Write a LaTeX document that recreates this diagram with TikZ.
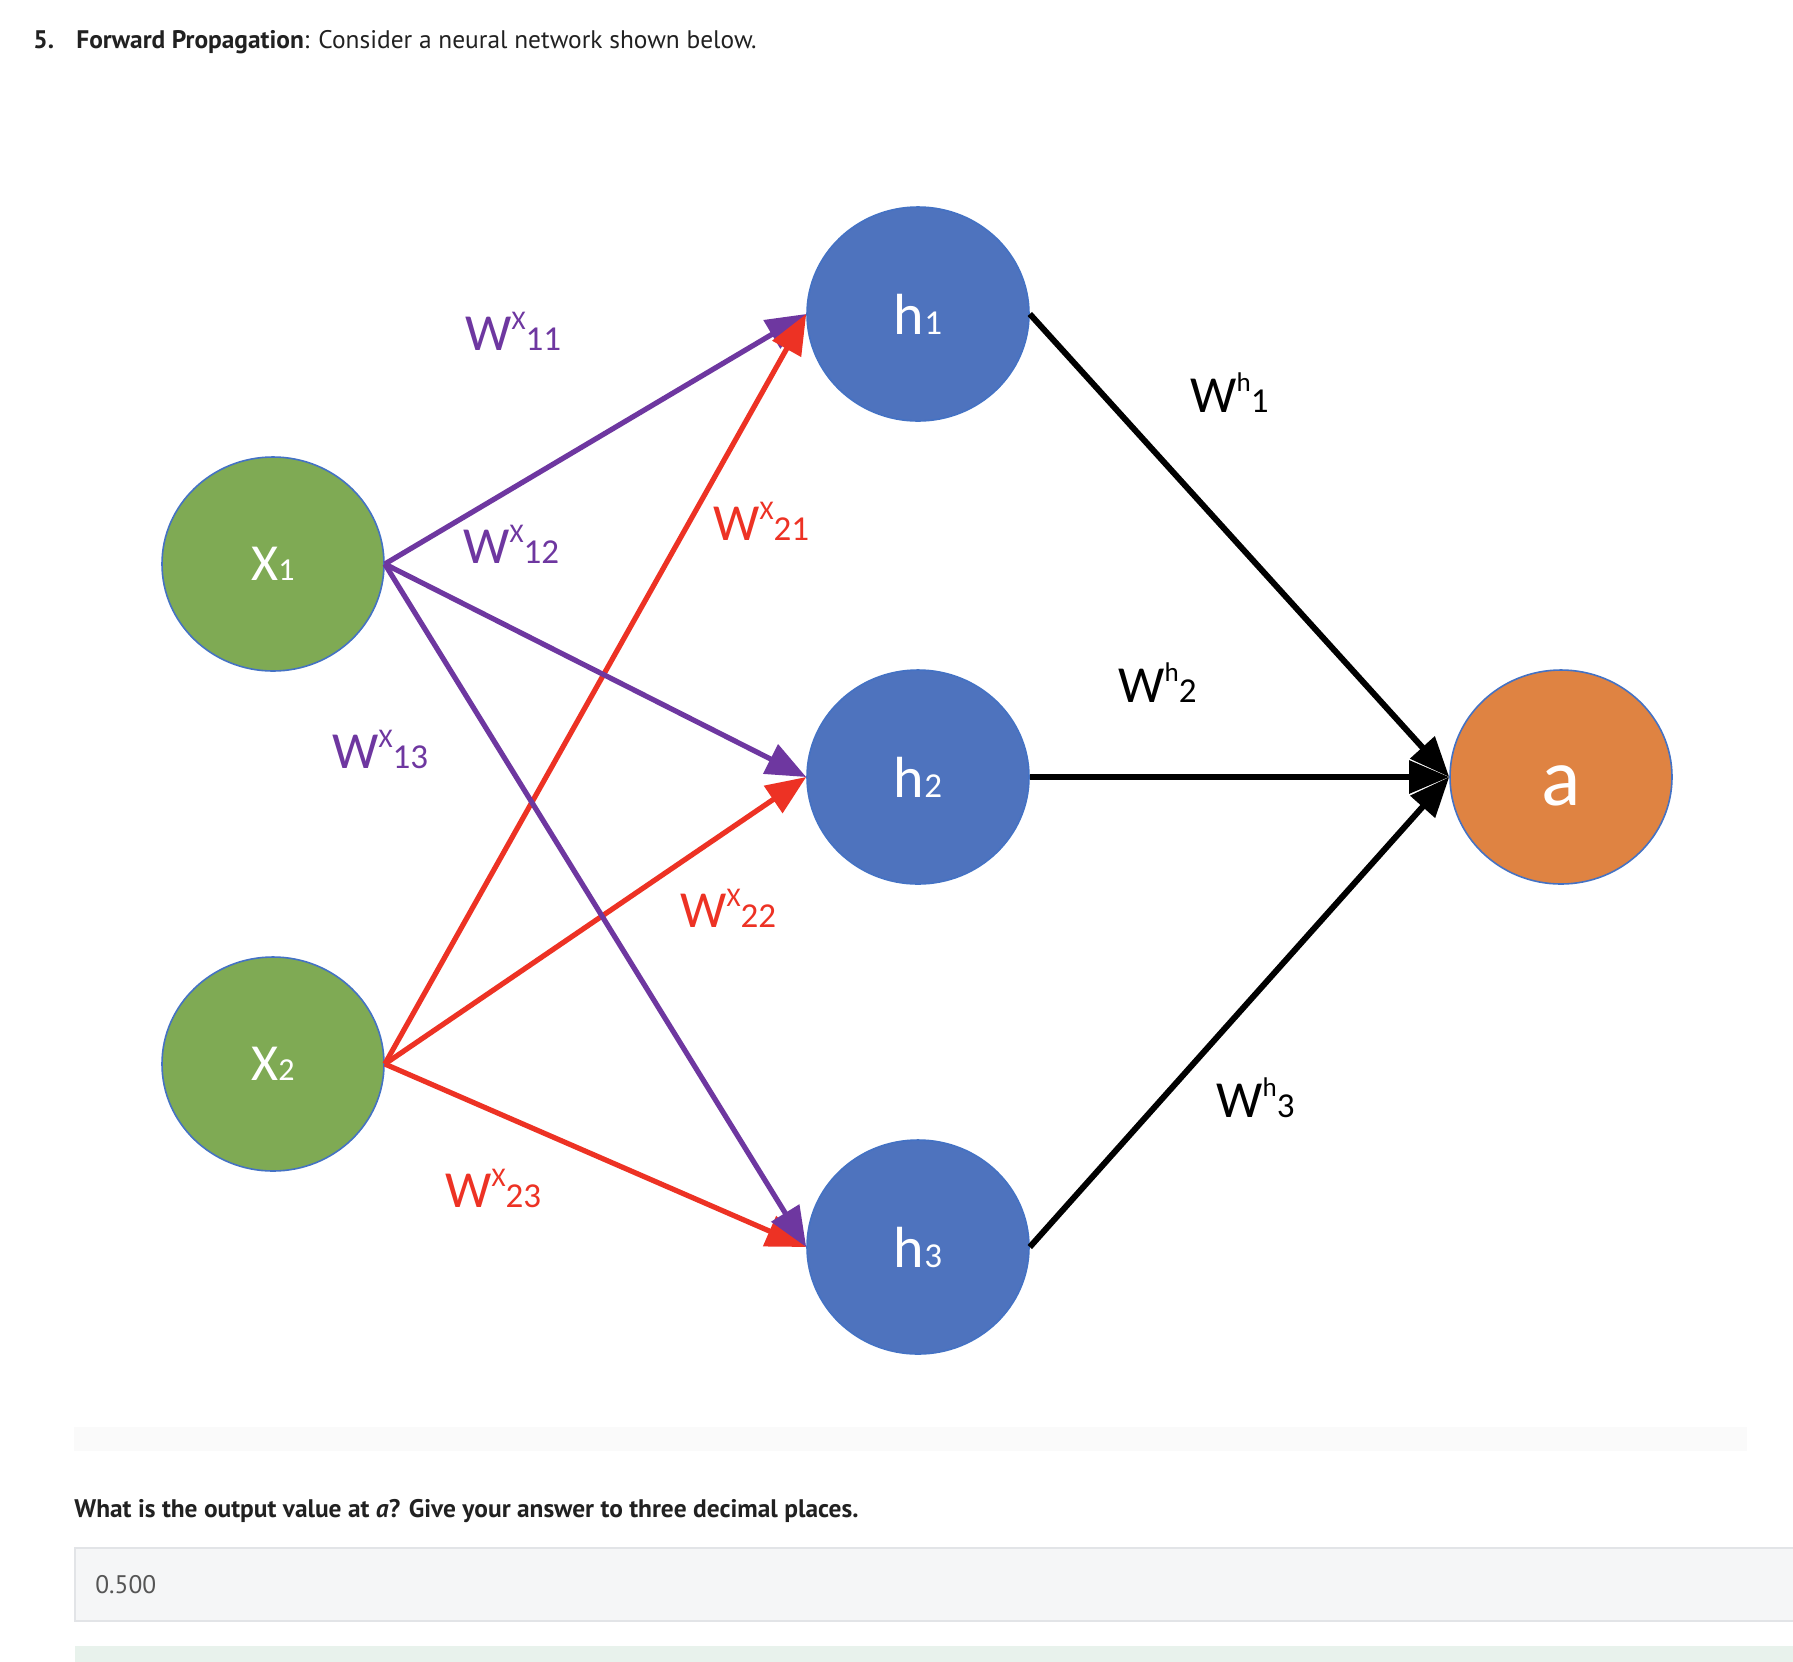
\documentclass[tikz,border=0pt]{standalone}
\usepackage{fontspec}
\setmainfont{PT Sans}
\newfontfamily\calibri{Carlito}
\usetikzlibrary{shapes.geometric, arrows.meta}
\definecolor{verde}{RGB}{127,170,84}
\definecolor{blu}{RGB}{78,115,190}
\definecolor{arancio}{RGB}{223,131,66}
\definecolor{bordo}{RGB}{68,114,196}
\definecolor{viola}{RGB}{110,55,160}
\definecolor{rosso}{RGB}{237,50,36}
\definecolor{testoscuro}{RGB}{33,33,33}
\definecolor{grigiotesto}{RGB}{85,85,85}
\definecolor{grigiochiaro}{RGB}{250,250,250}
\definecolor{grigiocampo}{RGB}{245,246,247}
\definecolor{bordocampo}{RGB}{226,228,231}
\definecolor{verdechiaro}{RGB}{232,242,236}
\newcommand{\pedice}[2]{{\fontsize{#1}{#1}\selectfont #2}}
\newcommand{\pesoW}[2]{W\raisebox{10.5pt}{\fontsize{13.5}{14}\selectfont #1}{\fontsize{17.5}{18}\selectfont #2}}

\begin{document}
\begin{tikzpicture}[x=0.5pt, y=-0.5pt,
    nodo/.style={ellipse, minimum width=111pt, minimum height=107pt, inner sep=0pt, draw=bordo, line width=0.8pt, text=white},
    ingresso/.style={nodo, fill=verde, font=\calibri\fontsize{26}{26}\selectfont},
    nascosto/.style={nodo, fill=blu, font=\calibri\fontsize{29}{29}\selectfont},
    uscita/.style={nodo, fill=arancio, font=\calibri\fontsize{41}{41}\selectfont, text height=28pt, text depth=0pt},
    freccia/.style={line width=2.6pt, -{Triangle[length=20pt, width=16pt]}},
    etichetta/.style={anchor=base west, inner sep=0pt, font=\calibri\fontsize{26}{26}\selectfont},
    testo/.style={anchor=base west, inner sep=0pt, text=testoscuro, font=\fontsize{12.7}{15}\selectfont}]
    % Pagina
    \fill[white] (0,0) rectangle (1793,1661);
    \useasboundingbox (0,0) rectangle (1793,1661);
    \fill[grigiochiaro] (74,1427) rectangle (1747,1451);
    \filldraw[fill = grigiocampo, draw = bordocampo, line width = 0.75pt] (75,1548) rectangle (1800,1621);
    \fill[verdechiaro] (75,1646) rectangle (1800,1670);
    \node[testo, font=\bfseries\fontsize{12.7}{15}\selectfont] (numero) at (33,48) {5.};
    \node[testo] (titolo) at (76,48) {\textbf{Forward Propagation}: Consider a neural network shown below.};
    \node[testo] (domanda) at (74,1517) {\textbf{What is the output value at \textit{a}? Give your answer to three decimal places.}};
    \node[testo, text=grigiotesto] (risposta) at (95,1593) {0.500};
    % Nodi
    \node[ingresso] (x1) at (273,564) {X\pedice{16}{1}};
    \node[ingresso] (x2) at (273,1064) {X\pedice{16}{2}};
    \node[nascosto] (h1) at (918,314) {h\pedice{17.5}{1}};
    \node[nascosto] (h2) at (918,777) {h\pedice{17.5}{2}};
    \node[nascosto] (h3) at (918,1247) {h\pedice{17.5}{3}};
    \node[uscita] (a) at (1561,777) {a};
    % Archi ingresso -> nascosto
    \draw[freccia, viola] (x1.east) -- (h1.west);
    \draw[freccia, rosso] (x2.east) -- (h1.west);
    \draw[freccia, viola] (x1.east) -- (h2.west);
    \draw[freccia, rosso] (x2.east) -- (h2.west);
    \draw[freccia, rosso] (x2.east) -- (h3.west);
    \draw[freccia, viola] (x1.east) -- (h3.west);
    % Archi nascosto -> uscita
    \draw[freccia, line width=3pt] (h1.east) -- (a.west);
    \draw[freccia, line width=3pt] (h2.east) -- (a.west);
    \draw[freccia, line width=3pt] (h3.east) -- (a.west);
    % Pesi
    \node[etichetta, viola] (w11) at (465,350) {\pesoW{X}{11}};
    \node[etichetta, viola] (w12) at (463,563) {\pesoW{X}{12}};
    \node[etichetta, viola] (w13) at (332,768) {\pesoW{X}{13}};
    \node[etichetta, rosso] (w21) at (713,540) {\pesoW{X}{21}};
    \node[etichetta, rosso] (w22) at (680,927) {\pesoW{X}{22}};
    \node[etichetta, rosso] (w23) at (445,1207) {\pesoW{X}{23}};
    \node[etichetta] (v1) at (1190,412) {\pesoW{h}{1}};
    \node[etichetta] (v2) at (1118,702) {\pesoW{h}{2}};
    \node[etichetta] (v3) at (1216,1117) {\pesoW{h}{3}};
\end{tikzpicture}
\end{document}
